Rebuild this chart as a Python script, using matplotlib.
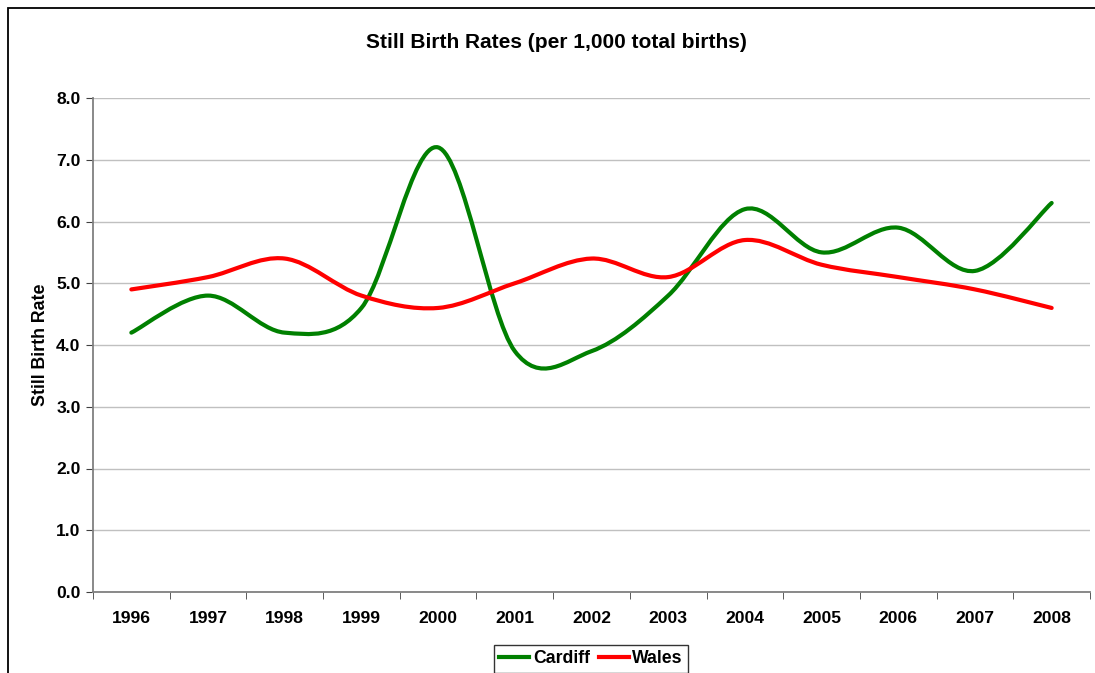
import matplotlib
matplotlib.use("Agg")
import matplotlib.pyplot as plt
from matplotlib.path import Path
from matplotlib.patches import PathPatch, Rectangle
import numpy as np


years = ['1996', '1997', '1998', '1999', '2000', '2001', '2002',
         '2003', '2004', '2005', '2006', '2007', '2008']
cardiff = [4.2, 4.8, 4.2, 4.6, 7.2, 3.9, 3.9, 4.8, 6.2, 5.5, 5.9, 5.2, 6.3]
wales = [4.9, 5.1, 5.4, 4.8, 4.6, 5.0, 5.4, 5.1, 5.7, 5.3, 5.1, 4.9, 4.6]
yticks = [0.0, 1.0, 2.0, 3.0, 4.0, 5.0, 6.0, 7.0, 8.0]


# excel style smoothed line: bezier segments through every data point
def smooth_path(x, y):
    pts = np.column_stack([x, y]).astype(float)
    n = len(pts)
    verts = [pts[0]]
    codes = [Path.MOVETO]
    for i in range(n - 1):
        p_prev = pts[i - 1] if i > 0 else pts[i]
        p_next2 = pts[i + 2] if i + 2 < n else pts[i + 1]
        c1 = pts[i] + (pts[i + 1] - p_prev) / 6.0
        c2 = pts[i + 1] - (p_next2 - pts[i]) / 6.0
        verts += [c1, c2, pts[i + 1]]
        codes += [Path.CURVE4] * 3
    return Path(verts, codes)


def main():
    plt.rcParams['font.family'] = ['Liberation Sans', 'DejaVu Sans']
    plt.rcParams['font.weight'] = 'bold'

    fig = plt.figure(figsize=(10.95, 6.73), dpi=100)
    # outer chart border (right / bottom edges fall outside the picture)
    fig.patches.append(Rectangle((8 / 1095, -0.1), 1.2, 1 - 8 / 673 + 0.1,
                                 transform=fig.transFigure, fill=False,
                                 edgecolor='black', linewidth=1.3))

    ax = fig.add_axes([93 / 1095, 1 - 592 / 673, 997 / 1095, 494 / 673])
    x = np.arange(len(years))

    for vals, col, name in [(cardiff, '#008000', 'Cardiff'), (wales, '#ff0000', 'Wales')]:
        patch = PathPatch(smooth_path(x, vals), fill=False, edgecolor=col,
                          linewidth=3, capstyle='round', joinstyle='round', zorder=3)
        ax.add_patch(patch)
        ax.plot([], [], color=col, linewidth=3, label=name)

    ax.set_xlim(-0.5, len(years) - 0.5)
    ax.set_ylim(0, 8)
    ax.set_yticks(yticks)
    ax.set_yticklabels(['%.1f' % v for v in yticks], fontsize=12.6, fontweight='bold')
    ax.set_xticks(x)
    ax.set_xticklabels(years, fontsize=12.6, fontweight='bold')
    ax.set_xticks(np.arange(-0.5, len(years), 1.0), minor=True)
    ax.tick_params(axis='x', which='major', length=0, pad=14)
    ax.tick_params(axis='x', which='minor', length=5, direction='out', color='#404040')
    ax.tick_params(axis='y', length=5, direction='out', color='#404040', pad=4)

    ax.grid(axis='y', color='#c0c0c0', linewidth=1)
    ax.set_axisbelow(True)
    for side in ['top', 'right']:
        ax.spines[side].set_visible(False)
    for side in ['left', 'bottom']:
        ax.spines[side].set_color('#808080')
        ax.spines[side].set_linewidth(1.3)

    ax.set_ylabel('Still Birth Rate', fontsize=12.8, fontweight='bold', labelpad=5)
    fig.text(556 / 1095, 1 - 42 / 673, 'Still Birth Rates (per 1,000 total births)',
             ha='center', va='center', fontsize=15, fontweight='bold')

    leg = fig.legend(loc='upper center', bbox_to_anchor=(591 / 1095, 1 - 645 / 673),
                     ncol=2, fontsize=12.7, frameon=True, fancybox=False,
                     handlelength=1.7, handletextpad=0.2, columnspacing=0.5,
                     borderpad=0.3, borderaxespad=0)
    leg.get_frame().set_edgecolor('black')
    leg.get_frame().set_linewidth(1)
    for t in leg.get_texts():
        t.set_fontweight('bold')

    fig.savefig('out.png', dpi=100)


if __name__ == "__main__":
    main()
